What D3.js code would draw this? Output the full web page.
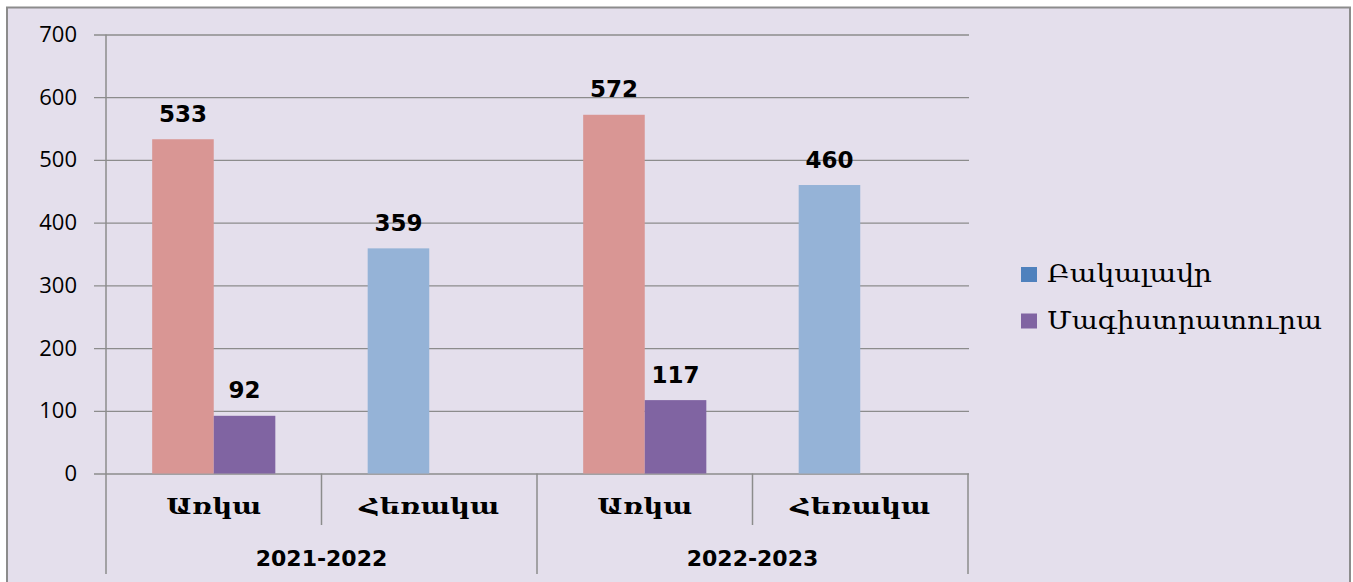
<!DOCTYPE html>
<html>
<head>
<meta charset="utf-8">
<script src="https://cdn.jsdelivr.net/npm/d3@7"></script>
<style>
  body { margin: 0; background: #fff; }
  svg { display: block; }
</style>
</head>
<body>
<div id="chart"></div>
<script>
"use strict";

// data
const years = ["2021-2022", "2022-2023"];
const forms = ["Առկա", "Հեռակա"];
const seriesNames = ["Բակալավր", "Մագիստրատուրա"];
const bachelor = [533, 359, 572, 460];   // Առկա, Հեռակա, Առկա, Հեռակա
const master = [92, null, 117, null];
const yTicks = [0, 100, 200, 300, 400, 500, 600, 700];

// colours
const formColor = { "Առկա": "#D99694", "Հեռակա": "#95B3D7" };
const masterColor = "#8064A2";
const legendColor = { "Բակալավր": "#4F81BD", "Մագիստրատուրա": "#8064A2" };

const width = 1353, height = 582;
const plot = { left: 106, right: 968, top: 34.5, bottom: 473.5 };

const armFont = "'DejaVu Serif', 'DejaVu Sans', serif";
const numFont = "'Open Sans', 'DejaVu Sans', sans-serif";
const boldFont = "'DejaVu Sans', sans-serif";

// widths of the armenian labels in the picture (no Sylfaen here)
const formWidth = { "Առկա": 95, "Հեռակա": 140 };
const legendWidth = { "Բակալավր": 165, "Մագիստրատուրա": 275 };

// table built from the arrays
const rows = [];
years.forEach((yr, yi) => {
  forms.forEach((f, fi) => {
    const i = yi * forms.length + fi;
    rows.push({ key: yr + "|" + f, year: yr, form: f,
      values: [
        { s: seriesNames[0], v: bachelor[i], color: formColor[f] },
        { s: seriesNames[1], v: master[i], color: masterColor }
      ] });
  });
});

const svg = d3.select("#chart").append("svg")
  .attr("width", width).attr("height", height);

// chart area
svg.append("rect")
  .attr("x", 7).attr("y", 7.5)
  .attr("width", 1343).attr("height", 590)
  .attr("fill", "#E4DFEC")
  .attr("stroke", "#8C8C8C").attr("stroke-width", 2);

const y = d3.scaleLinear().domain([0, 700]).range([plot.bottom, plot.top]);
const x0 = d3.scaleBand().domain(rows.map(d => d.key))
  .range([plot.left, plot.right]).paddingInner(0).paddingOuter(0);
const x1 = d3.scaleBand().domain(seriesNames)
  .range([0, x0.bandwidth()]).paddingInner(0).paddingOuter(0.75);

// gridlines + ticks
const yAxis = d3.axisLeft(y).tickValues(yTicks)
  .tickSize(-(plot.right - plot.left) - 12).tickPadding(17)
  .tickFormat(d3.format("d"));
const gy = svg.append("g")
  .attr("transform", `translate(${plot.right},0)`)
  .call(yAxis);
gy.select(".domain").remove();
gy.selectAll(".tick line")
  .attr("x1", -(plot.right - plot.left) - 12).attr("x2", 1)
  .attr("stroke", "#8C8C8C").attr("stroke-width", 1.3);
gy.selectAll(".tick text")
  .attr("x", -(plot.right - plot.left) - 12 - 17)
  .attr("font-family", numFont).attr("font-size", 22)
  .attr("fill", "#000");

// y axis line
svg.append("line")
  .attr("x1", plot.left).attr("x2", plot.left)
  .attr("y1", plot.top).attr("y2", 574)
  .attr("stroke", "#8C8C8C").attr("stroke-width", 1.5);

// bars
const groups = svg.append("g").selectAll("g")
  .data(rows).join("g")
  .attr("transform", d => `translate(${x0(d.key)},0)`);

groups.selectAll("rect")
  .data(d => d.values.filter(v => v.v != null))
  .join("rect")
  .attr("x", d => x1(d.s))
  .attr("y", d => y(d.v))
  .attr("width", x1.bandwidth())
  .attr("height", d => y(0) - y(d.v))
  .attr("fill", d => d.color);

groups.selectAll("text.val")
  .data(d => d.values.filter(v => v.v != null))
  .join("text")
  .attr("class", "val")
  .attr("x", d => x1(d.s) + x1.bandwidth() / 2)
  .attr("y", d => y(d.v) - 17.5)
  .attr("text-anchor", "middle")
  .attr("font-family", boldFont).attr("font-weight", "bold")
  .attr("font-size", 23).attr("fill", "#000")
  .text(d => d.v);

// category dividers below the axis
rows.forEach((d, i) => {
  const xr = x0(d.key) + x0.bandwidth();
  const isYearEnd = (i % forms.length) === forms.length - 1;
  svg.append("line")
    .attr("x1", xr).attr("x2", xr)
    .attr("y1", plot.bottom).attr("y2", isYearEnd ? 574 : 525)
    .attr("stroke", "#8C8C8C").attr("stroke-width", 1.5);
});

// form labels
svg.append("g").selectAll("text")
  .data(rows).join("text")
  .attr("x", d => x0(d.key) + x0.bandwidth() / 2)
  .attr("y", 514)
  .attr("text-anchor", "middle")
  .attr("font-family", armFont).attr("font-weight", "bold")
  .attr("font-size", 22).attr("fill", "#000")
  .attr("textLength", d => formWidth[d.form])
  .attr("lengthAdjust", "spacingAndGlyphs")
  .text(d => d.form);

// year labels
svg.append("g").selectAll("text")
  .data(years).join("text")
  .attr("x", yr => {
    const ks = rows.filter(r => r.year === yr).map(r => r.key);
    return (x0(ks[0]) + x0(ks[ks.length - 1]) + x0.bandwidth()) / 2;
  })
  .attr("y", 566)
  .attr("text-anchor", "middle")
  .attr("font-family", boldFont).attr("font-weight", "bold")
  .attr("font-size", 22).attr("fill", "#000")
  .text(yr => yr);

// legend
const legend = svg.append("g").attr("transform", "translate(1021,267)");
const li = legend.selectAll("g").data(seriesNames).join("g")
  .attr("transform", (d, i) => `translate(0,${i * 46.5})`);
li.append("rect")
  .attr("width", 16).attr("height", 15)
  .attr("fill", d => legendColor[d]);
li.append("text")
  .attr("x", 26).attr("y", 15)
  .attr("font-family", armFont).attr("font-size", 24)
  .attr("fill", "#000")
  .attr("textLength", d => legendWidth[d])
  .attr("lengthAdjust", "spacingAndGlyphs")
  .text(d => d);
</script>
</body>
</html>
